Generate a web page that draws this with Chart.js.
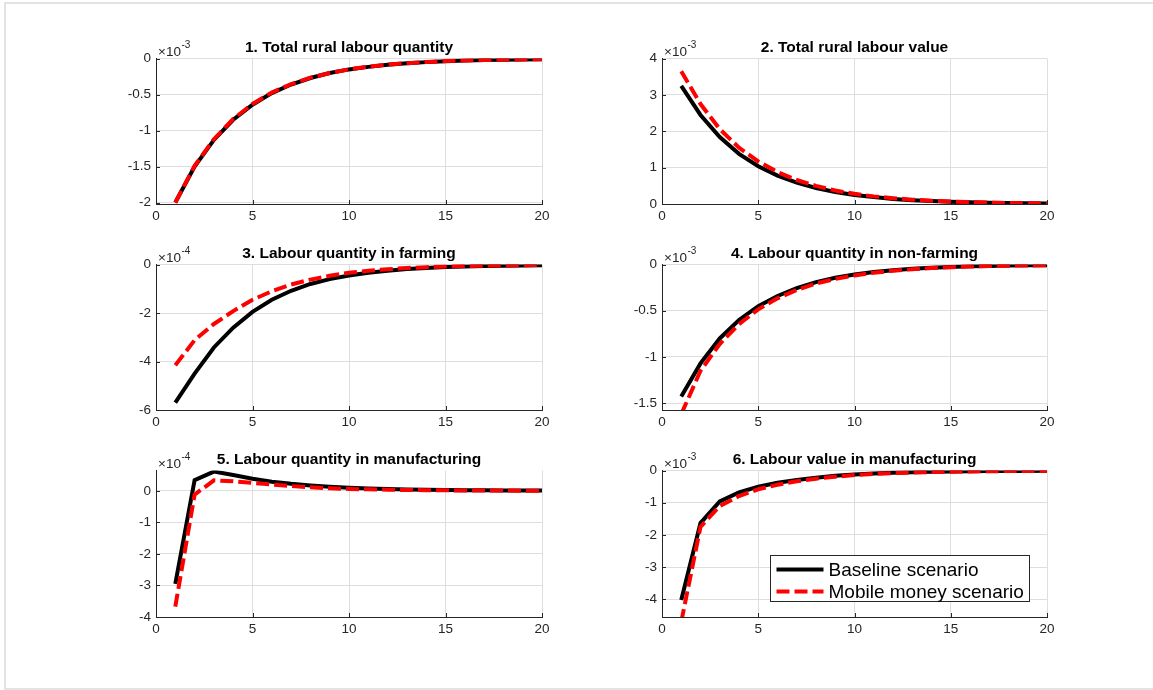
<!DOCTYPE html>
<html>
<head>
<meta charset="utf-8">
<title>Rural labour responses</title>
<script src="https://cdn.jsdelivr.net/npm/chart.js@4.4.1/dist/chart.umd.min.js"></script>
<style>
  html, body { margin: 0; padding: 0; background: #fff; overflow: hidden; }
  #page { position: relative; width: 1153px; height: 690px; overflow: hidden; background: #fff; }
  #frame { position: absolute; left: 4px; top: 2px; width: 1200px; height: 684px; border: 2px solid #e3e3e3; }
  canvas { position: absolute; }
</style>
</head>
<body>
<div id="page"><div id="frame"></div></div>
<script>
// ---- data -------------------------------------------------------------
const periods = [1, 2, 3, 4, 5, 6, 7, 8, 9, 10, 11, 12, 13, 14, 15, 16, 17, 18, 19, 20];
const xTicks = [0, 5, 10, 15, 20];
const seriesLabels = ['Baseline scenario', 'Mobile money scenario'];

const titles = [
  '1. Total rural labour quantity',
  '2. Total rural labour value',
  '3. Labour quantity in farming',
  '4. Labour quantity in non-farming',
  '5. Labour quantity in manufacturing',
  '6. Labour value in manufacturing'
];
const exponents = [-3, -3, -4, -3, -4, -3];

// 1. total rural labour quantity (x 10^-3)
const baseTotalQty   = [-2.00, -1.50, -1.13, -0.85, -0.64, -0.48, -0.36, -0.27, -0.20, -0.15, -0.115, -0.086, -0.065, -0.049, -0.037, -0.028, -0.021, -0.016, -0.012, -0.009];
const mobileTotalQty = [-2.00, -1.49, -1.12, -0.84, -0.63, -0.47, -0.355, -0.265, -0.20, -0.15, -0.112, -0.084, -0.063, -0.047, -0.035, -0.027, -0.020, -0.015, -0.011, -0.008];
// 2. total rural labour value (x 10^-3)
const baseTotalVal   = [3.25, 2.45, 1.84, 1.38, 1.04, 0.78, 0.59, 0.44, 0.33, 0.25, 0.19, 0.14, 0.105, 0.08, 0.06, 0.045, 0.034, 0.026, 0.02, 0.015];
const mobileTotalVal = [3.65, 2.75, 2.06, 1.55, 1.17, 0.88, 0.66, 0.50, 0.37, 0.28, 0.21, 0.16, 0.12, 0.09, 0.068, 0.051, 0.038, 0.029, 0.022, 0.016];
// 3. labour quantity in farming (x 10^-4)
const baseFarmQty    = [-5.70, -4.50, -3.42, -2.60, -1.95, -1.45, -1.08, -0.80, -0.60, -0.45, -0.335, -0.25, -0.185, -0.14, -0.104, -0.078, -0.058, -0.043, -0.032, -0.024];
const mobileFarmQty  = [-4.15, -3.12, -2.45, -1.92, -1.45, -1.10, -0.82, -0.62, -0.46, -0.34, -0.255, -0.19, -0.142, -0.106, -0.079, -0.059, -0.044, -0.033, -0.025, -0.019];
// 4. labour quantity in non-farming (x 10^-3)
const baseNonFarmQty   = [-1.43, -1.07, -0.80, -0.60, -0.45, -0.34, -0.255, -0.19, -0.143, -0.107, -0.08, -0.06, -0.045, -0.034, -0.025, -0.019, -0.014, -0.011, -0.008, -0.006];
const mobileNonFarmQty = [-1.62, -1.15, -0.86, -0.645, -0.485, -0.365, -0.275, -0.205, -0.155, -0.117, -0.088, -0.066, -0.05, -0.037, -0.028, -0.021, -0.016, -0.012, -0.009, -0.007];
// 5. labour quantity in manufacturing (x 10^-4)
const baseManuQty    = [-2.95, 0.34, 0.61, 0.50, 0.38, 0.29, 0.22, 0.17, 0.13, 0.10, 0.075, 0.057, 0.043, 0.033, 0.025, 0.019, 0.014, 0.011, 0.008, 0.006];
const mobileManuQty  = [-3.67, -0.12, 0.33, 0.30, 0.25, 0.20, 0.15, 0.11, 0.08, 0.06, 0.045, 0.034, 0.025, 0.019, 0.014, 0.011, 0.008, 0.006, 0.005, 0.004];
// 6. labour value in manufacturing (x 10^-3)
const baseManuVal    = [-4.02, -1.63, -0.96, -0.68, -0.50, -0.38, -0.29, -0.22, -0.16, -0.12, -0.09, -0.068, -0.051, -0.038, -0.029, -0.022, -0.016, -0.012, -0.009, -0.007];
const mobileManuVal  = [-4.70, -1.75, -1.10, -0.79, -0.58, -0.44, -0.33, -0.25, -0.19, -0.14, -0.105, -0.08, -0.06, -0.045, -0.034, -0.026, -0.019, -0.014, -0.011, -0.008];

const yTicks1 = [-2, -1.5, -1, -0.5, 0];
const yTicks2 = [0, 1, 2, 3, 4];
const yTicks3 = [-6, -4, -2, 0];
const yTicks4 = [-1.5, -1, -0.5, 0];
const yTicks5 = [-4, -3, -2, -1, 0];
const yTicks6 = [-4, -3, -2, -1, 0];
const yLimits = [[-2.02, 0], [0, 4], [-6, 0], [-1.575, 0], [-4, 0.64], [-4.55, 0]];

// ---- layout -----------------------------------------------------------
const plotBoxes = [
  { l: 156, t: 58,  w: 386, h: 146 },
  { l: 662, t: 58,  w: 385, h: 146 },
  { l: 156, t: 264, w: 386, h: 146 },
  { l: 662, t: 264, w: 385, h: 146 },
  { l: 156, t: 470, w: 386, h: 147 },
  { l: 662, t: 470, w: 385, h: 147 }
];
const M = { left: 56, right: 16, top: 40, bottom: 28 };
const FONT = "'Liberation Sans', Arial, Helvetica, sans-serif";
const AXIS = '#262626';
const GRID = '#dedede';

const panels = [
  { base: baseTotalQty,   mobile: mobileTotalQty,   ticks: yTicks1 },
  { base: baseTotalVal,   mobile: mobileTotalVal,   ticks: yTicks2 },
  { base: baseFarmQty,    mobile: mobileFarmQty,    ticks: yTicks3 },
  { base: baseNonFarmQty, mobile: mobileNonFarmQty, ticks: yTicks4 },
  { base: baseManuQty,    mobile: mobileManuQty,    ticks: yTicks5 },
  { base: baseManuVal,    mobile: mobileManuVal,    ticks: yTicks6 }
];

// "x10^n" multiplier written above the top-left corner of each axes
const exponentLabel = {
  id: 'exponentLabel',
  afterDraw(chart, args, opts) {
    const ctx = chart.ctx, ca = chart.chartArea;
    ctx.save();
    ctx.fillStyle = AXIS;
    ctx.textBaseline = 'alphabetic';
    ctx.textAlign = 'left';
    ctx.font = '13.5px ' + FONT;
    const base = '\u00d710';
    const x0 = ca.left + 2, y0 = ca.top - 3;
    ctx.fillText(base, x0, y0);
    const w = ctx.measureText(base).width;
    ctx.font = '10px ' + FONT;
    ctx.fillText(String(opts.power), x0 + w + 0.5, y0 - 7.5);
    ctx.restore();
  }
};

// short tick marks pointing into the axes, on the left and bottom edges
const innerTicks = {
  id: 'innerTicks',
  beforeDatasetsDraw(chart) {
    const ctx = chart.ctx, ca = chart.chartArea;
    const xs = chart.scales.x, ys = chart.scales.y;
    ctx.save();
    ctx.strokeStyle = AXIS;
    ctx.lineWidth = 1;
    ctx.beginPath();
    xs.ticks.forEach(t => {
      const px = Math.round(xs.getPixelForValue(t.value)) + 0.5;
      ctx.moveTo(px, ca.bottom);
      ctx.lineTo(px, ca.bottom - 4);
    });
    ys.ticks.forEach(t => {
      const py = Math.round(ys.getPixelForValue(t.value)) + 0.5;
      ctx.moveTo(ca.left, py);
      ctx.lineTo(ca.left + 4, py);
    });
    ctx.stroke();
    ctx.restore();
  }
};

// boxed legend placed in the lower right of the axes
const boxLegend = {
  id: 'boxLegend',
  afterDraw(chart, args, opts) {
    if (!opts.show) return;
    const ctx = chart.ctx, ca = chart.chartArea;
    const sets = chart.data.datasets;
    ctx.save();
    ctx.font = '19px ' + FONT;
    let tw = 0;
    sets.forEach(d => { tw = Math.max(tw, ctx.measureText(d.label).width); });
    const rowH = 22, bh = 46;
    const bw = 58 + tw + 6;
    const right = ca.right - 18, bottom = ca.bottom - 16;
    const left = Math.round(right - bw) + 0.5, top = Math.round(bottom - bh) + 0.5;
    ctx.fillStyle = '#fff';
    ctx.fillRect(left, top, bw, bh);
    ctx.strokeStyle = AXIS;
    ctx.lineWidth = 1;
    ctx.strokeRect(left, top, Math.round(bw), bh);
    sets.forEach((d, k) => {
      const cy = top + 14 + k * rowH;
      ctx.beginPath();
      ctx.strokeStyle = d.borderColor;
      ctx.lineWidth = d.borderWidth;
      ctx.lineCap = 'butt';
      ctx.setLineDash(d.borderDash || []);
      ctx.moveTo(left + 6, cy);
      ctx.lineTo(left + 53, cy);
      ctx.stroke();
      ctx.setLineDash([]);
      ctx.fillStyle = '#000';
      ctx.textBaseline = 'middle';
      ctx.textAlign = 'left';
      ctx.fillText(d.label, left + 58, cy + 1);
    });
    ctx.restore();
  }
};

function fmt(v) {
  return String(Math.round(v * 1000) / 1000);
}

const page = document.getElementById('page');

panels.forEach((p, i) => {
  const box = plotBoxes[i];
  const W = box.w + M.left + M.right, H = box.h + M.top + M.bottom;
  const cv = document.createElement('canvas');
  cv.width = W; cv.height = H;
  cv.style.left = (box.l - M.left) + 'px';
  cv.style.top = (box.t - M.top) + 'px';
  cv.style.width = W + 'px';
  cv.style.height = H + 'px';
  page.appendChild(cv);

  const tickFont = { family: FONT, size: 13.5 };
  new Chart(cv, {
    type: 'line',
    data: {
      datasets: [
        {
          label: seriesLabels[0],
          data: periods.map((x, k) => ({ x, y: p.base[k] })),
          borderColor: '#000000',
          borderWidth: 4,
          pointRadius: 0,
          tension: 0,
          fill: false,
          clip: 0,
          order: 2
        },
        {
          label: seriesLabels[1],
          data: periods.map((x, k) => ({ x, y: p.mobile[k] })),
          borderColor: '#ff0000',
          borderWidth: 4,
          borderDash: [13, 5],
          borderCapStyle: 'butt',
          pointRadius: 0,
          tension: 0,
          fill: false,
          clip: 0,
          order: 1
        }
      ]
    },
    options: {
      responsive: false,
      animation: false,
      devicePixelRatio: 1,
      layout: { padding: { left: 0, right: M.right, top: 0, bottom: 0 } },
      scales: {
        x: {
          type: 'linear',
          min: 0,
          max: 20,
          afterBuildTicks: s => { s.ticks = xTicks.map(v => ({ value: v })); },
          afterFit: s => { s.height = M.bottom; },
          ticks: { font: tickFont, color: AXIS, padding: 4, maxRotation: 0, autoSkip: false, callback: v => fmt(v) },
          grid: { color: GRID, lineWidth: 1, drawTicks: false },
          border: { color: AXIS, width: 1 }
        },
        y: {
          type: 'linear',
          min: yLimits[i][0],
          max: yLimits[i][1],
          afterBuildTicks: s => { s.ticks = p.ticks.map(v => ({ value: v })); },
          afterFit: s => { s.width = M.left; },
          ticks: { font: tickFont, color: AXIS, padding: 5, autoSkip: false, callback: v => fmt(v) },
          grid: { color: GRID, lineWidth: 1, drawTicks: false },
          border: { color: AXIS, width: 1 }
        }
      },
      plugins: {
        legend: { display: false },
        tooltip: { enabled: false },
        title: {
          display: true,
          text: titles[i],
          fullSize: false,
          color: '#000',
          font: { family: FONT, size: 15.5, weight: 'bold' },
          padding: { top: 20, bottom: 2 }
        },
        exponentLabel: { power: exponents[i] },
        boxLegend: { show: i === 5 }
      }
    },
    plugins: [innerTicks, exponentLabel, boxLegend]
  });
});
</script>
</body>
</html>
